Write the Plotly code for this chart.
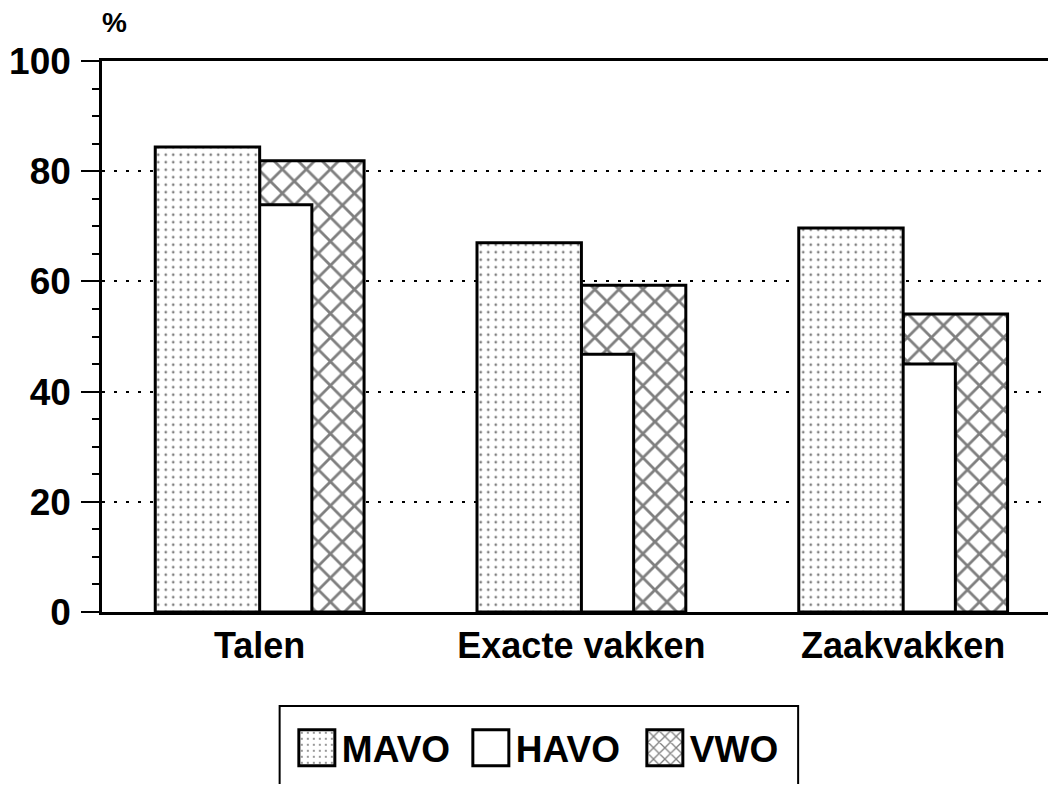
import plotly.graph_objects as go

categories = ['Talen', 'Exacte vakken', 'Zaakvakken']
mavo = [84.4, 67.0, 69.7]
havo = [73.9, 46.8, 45.0]
vwo = [81.9, 59.3, 54.1]

FONT = 'Liberation Sans'
BAR_W = 0.3245

fig = go.Figure()

# drawn back to front: VWO, HAVO, MAVO
fig.add_trace(go.Bar(
    name='VWO', x=categories, y=vwo, width=BAR_W, offset=0,
    marker=dict(color='white', line=dict(color='black', width=3),
                pattern=dict(shape='x', fgcolor='black', bgcolor='white',
                             size=17, solidity=0.3)),
))
fig.add_trace(go.Bar(
    name='HAVO', x=categories, y=havo, width=BAR_W, offset=-BAR_W / 2,
    marker=dict(color='white', line=dict(color='black', width=3)),
))
fig.add_trace(go.Bar(
    name='MAVO', x=categories, y=mavo, width=BAR_W, offset=-BAR_W,
    marker=dict(color='white', line=dict(color='black', width=3),
                pattern=dict(shape='.', fgcolor='black', bgcolor='white',
                             size=7.5, solidity=0.1)),
))

# page body has an 8px margin, so the figure is a bit smaller than the window
fig.update_layout(
    width=1048, height=776,
    margin=dict(l=94, r=0, t=53, b=172),
    paper_bgcolor='white', plot_bgcolor='white',
    barmode='overlay',
    showlegend=True,
    legend=dict(
        orientation='h', traceorder='reversed',
        x=0.199, y=-0.191, xanchor='left', yanchor='top',
        font=dict(family=FONT, size=37, weight='bold', color='black'),
        itemwidth=40, entrywidth=119, entrywidthmode='pixels',
        borderwidth=0, bgcolor='rgba(0,0,0,0)',
    ),
    font=dict(family=FONT, color='black'),
)

fig.update_xaxes(
    type='category', range=[-0.49, 2.475], automargin=False,
    showline=True, linecolor='black', linewidth=2.5, mirror=True,
    ticks='', showgrid=False, zeroline=False,
    tickfont=dict(family=FONT, size=36, weight='bold', color='black'),
    ticklabelstandoff=0,
)
fig.update_yaxes(
    range=[0, 100], tickvals=[0, 20, 40, 60, 80, 100], automargin=False,
    showline=True, linecolor='black', linewidth=2.5,
    ticks='outside', ticklen=18, tickwidth=2, tickcolor='black',
    minor=dict(dtick=5, ticks='outside', ticklen=7, tickwidth=1.5,
               tickcolor='black', showgrid=False),
    showgrid=True, gridcolor='black', gridwidth=1.5, griddash='3px,9px',
    zeroline=False,
    tickfont=dict(family=FONT, size=37, weight='bold', color='black'),
    ticklabelstandoff=3,
)

# legend frame
fig.add_shape(type='rect', xref='paper', yref='paper',
              x0=0.1862, x1=0.7297, y0=-0.1706, y1=-0.36,
              line=dict(color='black', width=2), fillcolor='rgba(0,0,0,0)')

fig.add_annotation(text='%', xref='paper', yref='paper', x=0.013, y=1.069,
                   xanchor='center', yanchor='middle', showarrow=False,
                   font=dict(family=FONT, size=28, weight='bold', color='black'))

# bigger legend swatches, as in the printed original
post = """
document.querySelectorAll('.legendpoints path').forEach(function(p){
    p.setAttribute('d', 'M18,18H-18V-18H18Z');
});
"""

fig.write_html("out.html", post_script=post)
